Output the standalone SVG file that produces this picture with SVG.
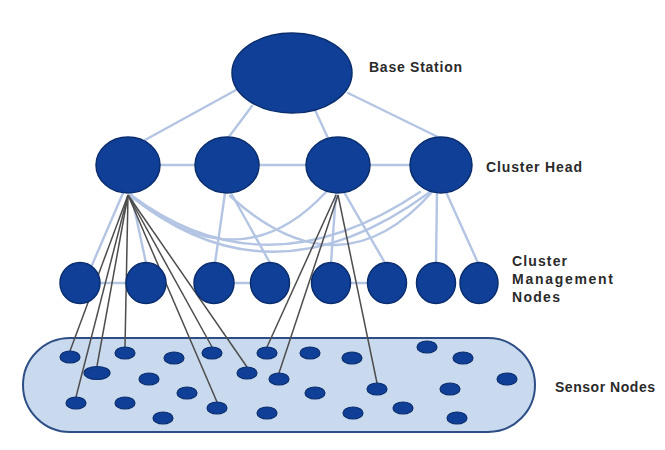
<svg xmlns="http://www.w3.org/2000/svg" width="665" height="450" viewBox="0 0 665 450">
<defs>
<style>
.node{fill:#0f3f97;stroke:#0a2d6e;stroke-width:1.5}
.sensor{fill:#0f3f97;stroke:#0a2d6e;stroke-width:1.2}
.light{stroke:#b3c5e3;stroke-width:2.4;fill:none;stroke-linecap:round}
.dark{stroke:#4d4d4d;stroke-width:1.5;fill:none}
.lbl{font-family:"Liberation Sans",Arial,sans-serif;font-weight:bold;font-size:14px;fill:#2a2a2a}
</style>
</defs>
<rect width="665" height="450" fill="#ffffff"/>
<g id="sensor-field">
<rect x="23" y="338" width="512" height="94" rx="47" ry="47" fill="#c9d9ee" stroke="#2d4f86" stroke-width="2"/>
</g>
<g id="connectors">
<line class="light" x1="236" y1="90" x2="145" y2="140"/>
<line class="light" x1="252" y1="106" x2="228" y2="138"/>
<line class="light" x1="315" y1="110" x2="328" y2="138"/>
<line class="light" x1="348" y1="93" x2="440" y2="138"/>
<line class="light" x1="160" y1="165" x2="195" y2="165"/>
<line class="light" x1="259" y1="165" x2="306" y2="165"/>
<line class="light" x1="370" y1="165" x2="410" y2="165"/>
<line class="light" x1="123" y1="193" x2="92" y2="265"/>
<line class="light" x1="131" y1="193" x2="146" y2="263"/>
<line class="light" x1="225" y1="193" x2="215" y2="263"/>
<line class="light" x1="231" y1="193" x2="270" y2="263"/>
<line class="light" x1="336" y1="193" x2="331" y2="263"/>
<line class="light" x1="344" y1="192" x2="385" y2="263"/>
<line class="light" x1="437" y1="193" x2="436" y2="263"/>
<line class="light" x1="446" y1="192" x2="478" y2="263"/>
<line class="light" x1="100" y1="283" x2="126" y2="283"/>
<line class="light" x1="234" y1="283" x2="250" y2="283"/>
<line class="light" x1="350" y1="283" x2="367" y2="283"/>
<path class="light" d="M130,195 Q270,310 430,192"/>
<path class="light" d="M131,195 Q265,296 420,192"/>
<path class="light" d="M131,196 Q240,285 326,192"/>
<path class="light" d="M230,196 Q340,296 432,192"/>
<line class="dark" x1="128" y1="195" x2="70" y2="351"/>
<line class="dark" x1="128" y1="195" x2="97" y2="366"/>
<line class="dark" x1="128" y1="195" x2="125" y2="347"/>
<line class="dark" x1="128" y1="195" x2="76" y2="397"/>
<line class="dark" x1="128" y1="195" x2="212" y2="347"/>
<line class="dark" x1="128" y1="195" x2="247" y2="367"/>
<line class="dark" x1="128" y1="195" x2="217" y2="402"/>
<line class="dark" x1="336" y1="195" x2="267" y2="347"/>
<line class="dark" x1="338" y1="195" x2="279" y2="373"/>
<line class="dark" x1="338" y1="195" x2="377" y2="383"/>
</g>
<g id="base-station"><ellipse class="node" cx="292" cy="73" rx="60" ry="40"/></g>
<g id="ch1"><ellipse class="node" cx="128" cy="165" rx="32" ry="28"/></g>
<g id="ch2"><ellipse class="node" cx="227" cy="165" rx="32" ry="28"/></g>
<g id="ch3"><ellipse class="node" cx="338" cy="165" rx="32" ry="28"/></g>
<g id="ch4"><ellipse class="node" cx="441" cy="165" rx="31" ry="28"/></g>
<g id="cm1"><ellipse class="node" cx="80" cy="283" rx="20" ry="20.5"/></g>
<g id="cm2"><ellipse class="node" cx="146" cy="283" rx="20" ry="20.5"/></g>
<g id="cm3"><ellipse class="node" cx="214" cy="283" rx="20" ry="20.5"/></g>
<g id="cm4"><ellipse class="node" cx="270" cy="283" rx="19.5" ry="20.5"/></g>
<g id="cm5"><ellipse class="node" cx="331" cy="283" rx="19.5" ry="20.5"/></g>
<g id="cm6"><ellipse class="node" cx="387" cy="283" rx="19.5" ry="20.5"/></g>
<g id="cm7"><ellipse class="node" cx="436" cy="283" rx="19.5" ry="20.5"/></g>
<g id="cm8"><ellipse class="node" cx="479" cy="283" rx="19" ry="20.5"/></g>
<g id="sensors">
<ellipse class="sensor" cx="70" cy="357" rx="10" ry="6"/>
<ellipse class="sensor" cx="97" cy="373" rx="13" ry="6.5"/>
<ellipse class="sensor" cx="125" cy="353" rx="10" ry="6"/>
<ellipse class="sensor" cx="174" cy="358" rx="10" ry="6"/>
<ellipse class="sensor" cx="212" cy="353" rx="10" ry="6"/>
<ellipse class="sensor" cx="149" cy="379" rx="10" ry="6"/>
<ellipse class="sensor" cx="187" cy="393" rx="10" ry="6"/>
<ellipse class="sensor" cx="76" cy="403" rx="10" ry="6"/>
<ellipse class="sensor" cx="125" cy="403" rx="10" ry="6"/>
<ellipse class="sensor" cx="163" cy="418" rx="10" ry="6"/>
<ellipse class="sensor" cx="217" cy="408" rx="10" ry="6"/>
<ellipse class="sensor" cx="247" cy="373" rx="10" ry="6"/>
<ellipse class="sensor" cx="267" cy="353" rx="10" ry="6"/>
<ellipse class="sensor" cx="279" cy="379" rx="10" ry="6"/>
<ellipse class="sensor" cx="267" cy="413" rx="10" ry="6"/>
<ellipse class="sensor" cx="310" cy="353" rx="10" ry="6"/>
<ellipse class="sensor" cx="352" cy="358" rx="10" ry="6"/>
<ellipse class="sensor" cx="427" cy="347" rx="10" ry="6"/>
<ellipse class="sensor" cx="463" cy="358" rx="10" ry="6"/>
<ellipse class="sensor" cx="315" cy="393" rx="10" ry="6"/>
<ellipse class="sensor" cx="377" cy="389" rx="10" ry="6"/>
<ellipse class="sensor" cx="450" cy="389" rx="10" ry="6"/>
<ellipse class="sensor" cx="507" cy="379" rx="10" ry="6"/>
<ellipse class="sensor" cx="353" cy="413" rx="10" ry="6"/>
<ellipse class="sensor" cx="403" cy="408" rx="10" ry="6"/>
<ellipse class="sensor" cx="457" cy="418" rx="10" ry="6"/>
</g>
<g id="labels">
<text class="lbl" x="369" y="72" textLength="93" lengthAdjust="spacing">Base Station</text>
<text class="lbl" x="486" y="172" textLength="96" lengthAdjust="spacing">Cluster Head</text>
<text class="lbl" x="512" y="266" textLength="55" lengthAdjust="spacing">Cluster</text>
<text class="lbl" x="512" y="284" textLength="101" lengthAdjust="spacing">Management</text>
<text class="lbl" x="512" y="302" textLength="48" lengthAdjust="spacing">Nodes</text>
<text class="lbl" x="555" y="392" textLength="100" lengthAdjust="spacing">Sensor Nodes</text>
</g>
</svg>
